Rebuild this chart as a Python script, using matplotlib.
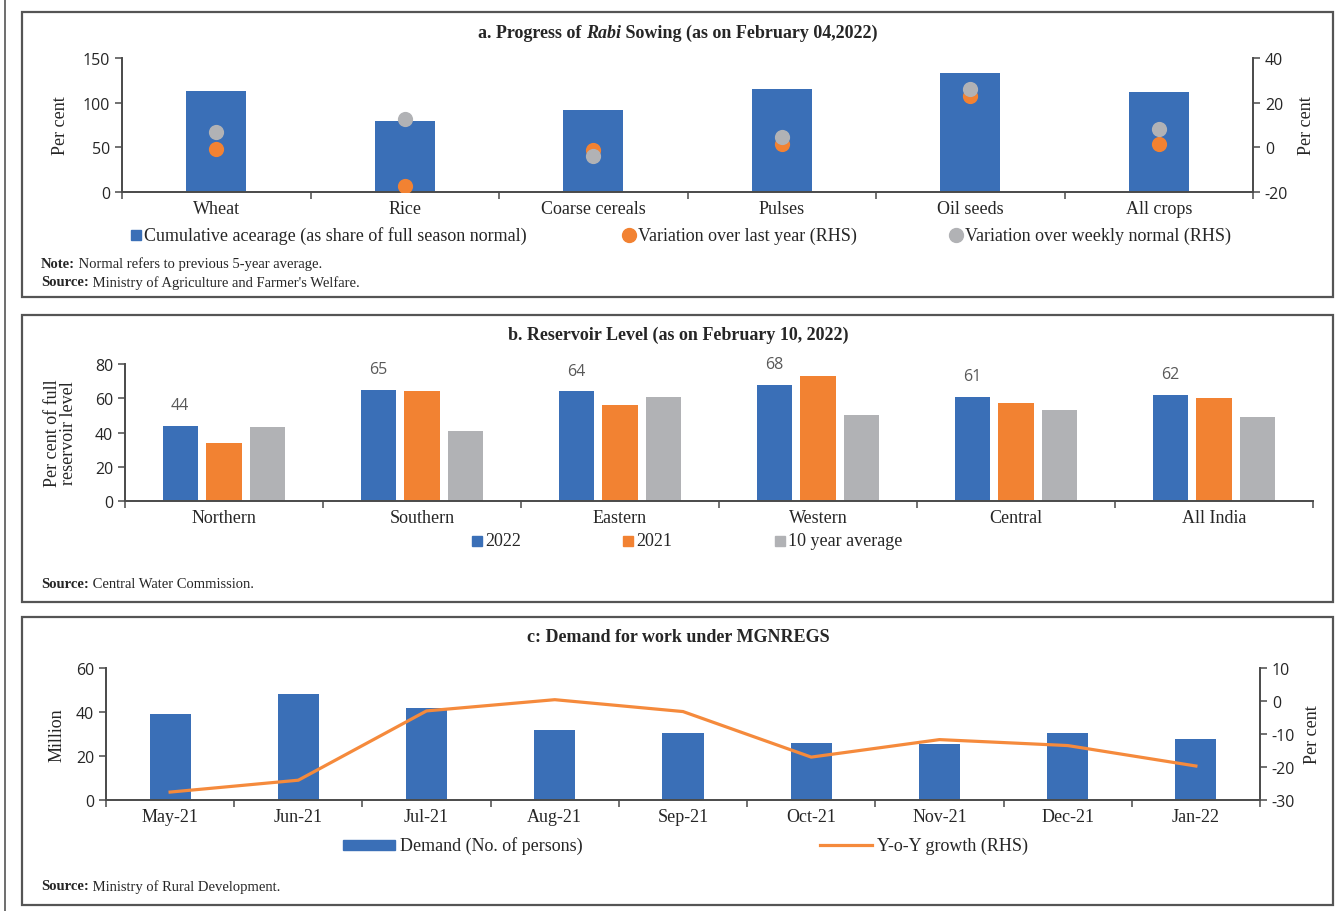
import matplotlib
matplotlib.use("Agg")
import matplotlib.pyplot as plt
import numpy as np
from matplotlib.patches import Rectangle
from matplotlib.lines import Line2D

# ---------------- data ----------------
crops = ["Wheat", "Rice", "Coarse cereals", "Pulses", "Oil seeds", "All crops"]
acreage_share = [113, 79, 92, 115, 133, 112]
var_last_year = [-0.8, -17.5, -1.2, 1.5, 22.8, 1.5]
var_weekly_normal = [6.9, 12.5, -3.9, 4.6, 26.0, 8.2]

regions = ["Northern", "Southern", "Eastern", "Western", "Central", "All India"]
level_2022 = [44, 65, 64, 68, 61, 62]
level_2021 = [34, 64, 56, 73, 57, 60]
level_10yr = [43, 41, 61, 50, 53, 49]

months = ["May-21", "Jun-21", "Jul-21", "Aug-21", "Sep-21", "Oct-21",
          "Nov-21", "Dec-21", "Jan-22"]
demand = [39.0, 48.1, 41.6, 31.8, 30.4, 25.9, 25.5, 30.3, 27.6]
yoy_growth = [-27.6, -24.0, -3.0, 0.4, -3.2, -17.0, -11.7, -13.5, -19.7]

# ---------------- style ----------------
plt.rcParams["axes.unicode_minus"] = False
BLUE = "#3A6FB7"
ORANGE = "#F28232"
GREY = "#B1B2B5"
LINE_ORANGE = "#F58A3C"
SPINE = "#4A4A4A"
TXT = "#262626"
SERIF = "Liberation Serif"
SANS = "Open Sans"

W, H = 1335, 912
fig = plt.figure(figsize=(W / 100, H / 100), dpi=100)
renderer = fig.canvas.get_renderer()


def fx(x):
    return x / W


def fy(y):
    return 1 - y / H


def axes_px(x0, y0, x1, y1):
    return fig.add_axes([fx(x0), fy(y1), (x1 - x0) / W, (y1 - y0) / H])


def rich_text(x, y, parts, ha="left"):
    """Place consecutive text runs with different styles on one baseline."""
    widths = []
    for s, kw in parts:
        t = fig.text(0, 0, s, **kw)
        widths.append(t.get_window_extent(renderer).width)
        t.remove()
    total = sum(widths)
    start = x if ha == "left" else x - total / 2
    cur = start
    for (s, kw), w in zip(parts, widths):
        fig.text(fx(cur), fy(y), s, va="center", ha="left", **kw)
        cur += w


def frame(y0, y1, x0=22, x1=1333):
    fig.add_artist(Rectangle((fx(x0), fy(y1)), (x1 - x0) / W, (y1 - y0) / H,
                             transform=fig.transFigure, fill=False,
                             edgecolor="#555555", linewidth=1.6))


def style_axes(ax):
    for side in ["top", "right"]:
        ax.spines[side].set_visible(False)
    for side in ["left", "bottom"]:
        ax.spines[side].set_color(SPINE)
        ax.spines[side].set_linewidth(1.4)
    ax.tick_params(axis="y", colors=SPINE, labelcolor=TXT, length=5,
                   width=1.1, labelsize=11.5)
    for lab in ax.get_yticklabels():
        lab.set_fontfamily(SANS)
    ax.set_facecolor("none")


def style_right(ax):
    for side in ["top", "left", "bottom"]:
        ax.spines[side].set_visible(False)
    ax.spines["right"].set_color(SPINE)
    ax.spines["right"].set_linewidth(1.4)
    ax.tick_params(axis="y", colors=SPINE, labelcolor=TXT, length=5, width=1.1,
                   labelsize=11.5)
    for lab in ax.get_yticklabels():
        lab.set_fontfamily(SANS)


def cat_axis(ax, labels):
    n = len(labels)
    ax.set_xlim(-0.5, n - 0.5)
    ax.set_xticks(range(n))
    ax.set_xticklabels(labels, fontfamily=SERIF, fontsize=13, color=TXT)
    ax.tick_params(axis="x", which="major", length=0, pad=6)
    ax.set_xticks(np.arange(-0.5, n, 1.0), minor=True)
    ax.tick_params(axis="x", which="minor", length=5, width=1.1, colors=SPINE)


def legend_square(x, y, color, label, size=10):
    fig.add_artist(Rectangle((fx(x - size / 2), fy(y + size / 2)), size / W, size / H,
                             transform=fig.transFigure, color=color))
    fig.text(fx(x + size / 2 + 3), fy(y), label, va="center", ha="left",
             fontfamily=SERIF, fontsize=13, color=TXT)


def legend_dot(x, y, color, label):
    fig.add_artist(Line2D([fx(x)], [fy(y)], transform=fig.transFigure,
                          marker="o", markersize=10, color=color, linestyle="none"))
    fig.text(fx(x + 9), fy(y), label, va="center", ha="left",
             fontfamily=SERIF, fontsize=13, color=TXT)


# outer left rule
fig.add_artist(Line2D([fx(5), fx(5)], [0, 1], transform=fig.transFigure,
                      color="#555555", linewidth=1.2))

# ================= panel a =================
frame(13, 298)
ax1 = axes_px(122, 59, 1253, 193)
x = np.arange(len(crops))
ax1.bar(x, acreage_share, width=0.32, color=BLUE, zorder=2)
ax1.set_ylim(0, 150)
ax1.set_yticks([0, 50, 100, 150])
style_axes(ax1)
cat_axis(ax1, crops)
ax1.set_ylabel("Per cent", fontfamily=SERIF, fontsize=13, color=TXT)
ax1.yaxis.set_label_coords(-0.047, 0.5)

ax1r = ax1.twinx()
ax1r.scatter(x, var_last_year, s=120, color=ORANGE, zorder=3, linewidths=0)
ax1r.scatter(x, var_weekly_normal, s=120, color=GREY, zorder=4, linewidths=0)
ax1r.set_ylim(-20, 40)
ax1r.set_yticks([-20, 0, 20, 40])
style_right(ax1r)
ax1r.set_ylabel("Per cent", fontfamily=SERIF, fontsize=13, color=TXT)
ax1r.yaxis.set_label_coords(1.040, 0.5)

rich_text(678, 33, [
    ("a. Progress of ", dict(fontfamily=SERIF, fontsize=13, fontweight="bold", color=TXT)),
    ("Rabi", dict(fontfamily=SERIF, fontsize=13, fontweight="bold", fontstyle="italic", color=TXT)),
    (" Sowing (as on February 04,2022)", dict(fontfamily=SERIF, fontsize=13, fontweight="bold", color=TXT)),
], ha="center")

legend_square(136, 236, BLUE, "Cumulative acearage (as share of full season normal)")
legend_dot(629, 236, ORANGE, "Variation over last year (RHS)")
legend_dot(956, 236, GREY, "Variation over weekly normal (RHS)")

note_b = dict(fontfamily=SERIF, fontsize=10.5, fontweight="bold", color=TXT)
note_r = dict(fontfamily=SERIF, fontsize=10.5, color=TXT)
rich_text(41, 264, [("Note:", note_b), (" Normal refers to previous 5-year average.", note_r)])
rich_text(41, 283, [("Source:", note_b), (" Ministry of Agriculture and Farmer's Welfare.", note_r)])

# ================= panel b =================
frame(316, 603)
ax2 = axes_px(125, 365, 1313, 502)
x = np.arange(len(regions))
step, bw = 0.222, 0.177
ax2.bar(x - step, level_2022, width=bw, color=BLUE, zorder=2)
ax2.bar(x, level_2021, width=bw, color=ORANGE, zorder=2)
ax2.bar(x + step, level_10yr, width=bw, color=GREY, zorder=2)
for xi, v in zip(x - step, level_2022):
    ax2.annotate(f"{v}", (xi, v), xytext=(0, 15), textcoords="offset points",
                 ha="center", va="center", fontfamily=SANS, fontsize=11.5,
                 color="#595959")
ax2.set_ylim(0, 80)
ax2.set_yticks([0, 20, 40, 60, 80])
style_axes(ax2)
cat_axis(ax2, regions)
ax2.set_ylabel("Per cent of full\nreservoir level", fontfamily=SERIF, fontsize=13,
               color=TXT, linespacing=0.95)
ax2.yaxis.set_label_coords(-0.040, 0.5)

fig.text(fx(678), fy(335), "b. Reservoir Level (as on February 10, 2022)",
         ha="center", va="center", fontfamily=SERIF, fontsize=13,
         fontweight="bold", color=TXT)
legend_square(477, 542, BLUE, "2022")
legend_square(628, 542, ORANGE, "2021")
legend_square(780, 542, GREY, "10 year average")
rich_text(41, 584, [("Source:", note_b), (" Central Water Commission.", note_r)])

# ================= panel c =================
frame(618, 906)
ax3 = axes_px(106, 669, 1260, 801)
x = np.arange(len(months))
ax3.bar(x, demand, width=0.32, color=BLUE, zorder=2)
ax3.set_ylim(0, 60)
ax3.set_yticks([0, 20, 40, 60])
style_axes(ax3)
cat_axis(ax3, months)
ax3.set_ylabel("Million", fontfamily=SERIF, fontsize=13, color=TXT)
ax3.yaxis.set_label_coords(-0.0355, 0.5)

ax3r = ax3.twinx()
ax3r.plot(x, yoy_growth, color=LINE_ORANGE, linewidth=2.3, zorder=3)
ax3r.set_ylim(-30, 10)
ax3r.set_yticks([-30, -20, -10, 0, 10])
style_right(ax3r)
ax3r.set_ylabel("Per cent", fontfamily=SERIF, fontsize=13, color=TXT)
ax3r.yaxis.set_label_coords(1.038, 0.5)

fig.text(fx(678), fy(638), "c: Demand for work under MGNREGS",
         ha="center", va="center", fontfamily=SERIF, fontsize=13,
         fontweight="bold", color=TXT)

fig.add_artist(Rectangle((fx(343), fy(851)), 52 / W, 10 / H,
                         transform=fig.transFigure, color=BLUE))
fig.text(fx(400), fy(846), "Demand (No. of persons)", va="center", ha="left",
         fontfamily=SERIF, fontsize=13, color=TXT)
fig.add_artist(Line2D([fx(820), fx(872)], [fy(846), fy(846)],
                      transform=fig.transFigure, color=LINE_ORANGE, linewidth=2.3))
fig.text(fx(877), fy(846), "Y-o-Y growth (RHS)", va="center", ha="left",
         fontfamily=SERIF, fontsize=13, color=TXT)
rich_text(41, 887, [("Source:", note_b), (" Ministry of Rural Development.", note_r)])

fig.savefig("out.png", dpi=100, facecolor="white")
